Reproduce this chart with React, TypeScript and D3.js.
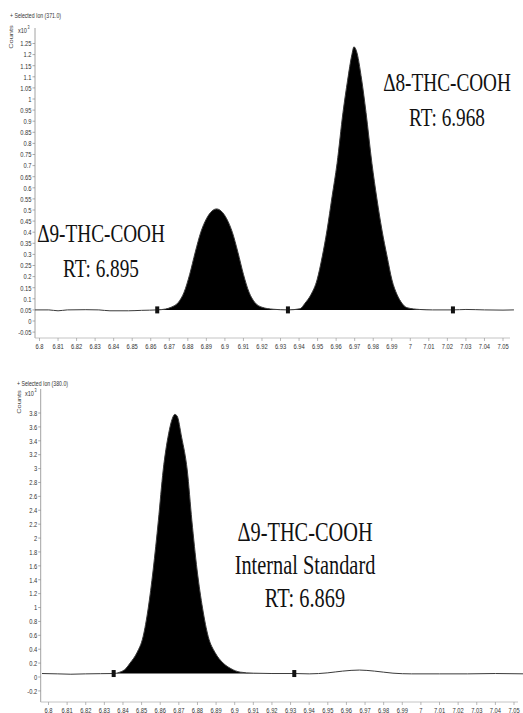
import React, { useEffect } from "react";
import * as d3 from "d3";

// ---------------- data ----------------
const topRT = [6.7976, 6.805, 6.81, 6.815, 6.825, 6.832, 6.838, 6.848, 6.855, 6.8635,
  6.868, 6.871, 6.875, 6.878, 6.881, 6.884, 6.887, 6.89, 6.893, 6.8955, 6.898, 6.901, 6.904,
  6.907, 6.91, 6.913, 6.916, 6.92, 6.926, 6.934,
  6.9405, 6.9432, 6.9465, 6.9497, 6.9525, 6.9551, 6.9578, 6.9605, 6.9637, 6.9662, 6.9685,
  6.9696, 6.9708, 6.9738, 6.9761, 6.9793, 6.982, 6.9847, 6.9875, 6.9901, 6.9928, 6.9955,
  6.9982, 7.005, 7.012, 7.023, 7.03, 7.04, 7.05, 7.0559];
const topCounts = [0.05, 0.05, 0.046, 0.05, 0.051, 0.05, 0.046, 0.046, 0.048, 0.05,
  0.054, 0.062, 0.085, 0.13, 0.21, 0.31, 0.4, 0.46, 0.495, 0.505, 0.495, 0.46, 0.4,
  0.31, 0.21, 0.13, 0.085, 0.062, 0.053, 0.05,
  0.055, 0.08, 0.12, 0.185, 0.29, 0.41, 0.56, 0.71, 0.94, 1.085, 1.2,
  1.235, 1.22, 1.085, 0.94, 0.71, 0.55, 0.41, 0.29, 0.185, 0.12, 0.08,
  0.06, 0.052, 0.05, 0.05, 0.052, 0.05, 0.049, 0.05];
const topMarkersRT = [6.8635, 6.934, 7.023];

const botRT = [6.7965, 6.805, 6.812, 6.82, 6.828, 6.835, 6.8384, 6.8415, 6.8438, 6.8475,
  6.8508, 6.8535, 6.8562, 6.859, 6.8616, 6.8645, 6.8665, 6.8678, 6.869, 6.8715, 6.8745,
  6.877, 6.8798, 6.8828, 6.8858, 6.8895, 6.8938, 6.898, 6.903, 6.91, 6.92, 6.932,
  6.94, 6.95, 6.958, 6.967, 6.975, 6.985, 6.995, 7.01, 7.025, 7.04, 7.057];
const botCounts = [0.05, 0.045, 0.04, 0.045, 0.048, 0.05, 0.07, 0.12, 0.2, 0.35,
  0.58, 0.98, 1.54, 2.25, 2.98, 3.5, 3.72, 3.78, 3.76, 3.45, 2.98,
  2.25, 1.54, 0.98, 0.58, 0.35, 0.2, 0.12, 0.07, 0.055, 0.05, 0.05,
  0.045, 0.06, 0.085, 0.1, 0.085, 0.055, 0.045, 0.045, 0.045, 0.05, 0.045];
const botMarkersRT = [6.835, 6.932];

const xTickLabels = ["6.8", "6.81", "6.82", "6.83", "6.84", "6.85", "6.86", "6.87", "6.88", "6.89",
  "6.9", "6.91", "6.92", "6.93", "6.94", "6.95", "6.96", "6.97", "6.98", "6.99",
  "7", "7.01", "7.02", "7.03", "7.04", "7.05"];
const topYTickLabels = ["1.25", "1.2", "1.15", "1.1", "1.05", "1", "0.95", "0.9", "0.85", "0.8",
  "0.75", "0.7", "0.65", "0.6", "0.55", "0.5", "0.45", "0.4", "0.35", "0.3", "0.25", "0.2",
  "0.15", "0.1", "0.05", "0", "-0.05"];
const botYTickLabels = ["3.8", "3.6", "3.4", "3.2", "3", "2.8", "2.6", "2.4", "2.2", "2", "1.8",
  "1.6", "1.4", "1.2", "1", "0.8", "0.6", "0.4", "0.2", "0", "-0.2"];

const topHeader = "+ Selected Ion (371.0)";
const botHeader = "+ Selected Ion (380.0)";
const yAxisTitle = "Counts";
const topAnnotations = [["Δ9-THC-COOH", "RT: 6.895"], ["Δ8-THC-COOH", "RT: 6.968"]];
const botAnnotations = [["Δ9-THC-COOH", "Internal Standard", "RT: 6.869"]];

// ---------------- layout ----------------
const W = 523;
const H = 713;
const SQ = 0.74; // horizontal squeeze of the original figure's text

type PanelCfg = {
  rt: number[]; counts: number[]; markers: number[]; yLabels: string[];
  xRange: [number, number]; yDomain: [number, number]; yRange: [number, number];
  axisX: number; axisTop: number; axisBottom: number; axisRight: number;
  header: string; headerX: number; headerY: number;
  countsX: number; countsY: number; x10X: number; x10Y: number;
  annotations: string[][]; annPos: { x: number; y: number }[]; lineGap: number; annSize: number;
};

const panels: PanelCfg[] = [
  {
    rt: topRT, counts: topCounts, markers: topMarkersRT, yLabels: topYTickLabels,
    xRange: [39.5, 503], yDomain: [0, 1.25], yRange: [321, 43.5],
    axisX: 35, axisTop: 28, axisBottom: 338, axisRight: 510,
    header: topHeader, headerX: 10, headerY: 17.5,
    countsX: 12.5, countsY: 37, x10X: 18, x10Y: 33,
    annotations: topAnnotations,
    annPos: [{ x: 101, y: 242 }, { x: 447, y: 91 }], lineGap: 35, annSize: 26,
  },
  {
    rt: botRT, counts: botCounts, markers: botMarkersRT, yLabels: botYTickLabels,
    xRange: [48.5, 514], yDomain: [0, 3.8], yRange: [677, 413],
    axisX: 40.7, axisTop: 389, axisBottom: 702, axisRight: 518,
    header: botHeader, headerX: 17, headerY: 385.5,
    countsX: 21, countsY: 402, x10X: 25, x10Y: 396,
    annotations: botAnnotations,
    annPos: [{ x: 305, y: 541 }], lineGap: 33, annSize: 27.5,
  },
];

function SText(props: { x: number; y: number; size: number; anchor?: string; fill?: string; family?: string; children: React.ReactNode }) {
  const { x, y, size, anchor = "start", fill = "#333", family = "'Liberation Sans', Arial, sans-serif", children } = props;
  return (
    <text transform={`translate(${x},${y}) scale(${SQ},1)`} fontSize={size} textAnchor={anchor as any}
      fill={fill} fontFamily={family}>{children}</text>
  );
}

function Panel({ p }: { p: PanelCfg }) {
  const x = d3.scaleLinear().domain([6.8, 7.05]).range(p.xRange);
  const y = d3.scaleLinear().domain(p.yDomain).range(p.yRange);
  const pts = p.rt.map((r, i) => ({ r, c: p.counts[i] }));
  const line = d3.line<{ r: number; c: number }>().x(d => x(d.r)).y(d => y(d.c)).curve(d3.curveMonotoneX);

  const segs = [];
  for (let i = 0; i < p.markers.length - 1; i++) {
    const m0 = p.markers[i], m1 = p.markers[i + 1];
    const seg = pts.filter(d => d.r >= m0 - 1e-9 && d.r <= m1 + 1e-9);
    const b0 = seg[0].c, b1 = seg[seg.length - 1].c;
    const area = d3.area<{ r: number; c: number }>()
      .x(d => x(d.r))
      .y0(d => y(b0 + (b1 - b0) * (d.r - m0) / (m1 - m0)))
      .y1(d => y(d.c))
      .curve(d3.curveMonotoneX);
    segs.push(<path key={i} d={area(seg) || ""} fill="#000" />);
  }

  const axisColor = "#8a8a8a";
  return (
    <g>
      {/* header & axis title */}
      <SText x={p.headerX} y={p.headerY} size={7}>{p.header}</SText>
      <text transform={`translate(${p.countsX},${p.countsY}) rotate(-90) scale(1,${SQ})`} fontSize={7.5}
        textAnchor="middle" fill="#444" fontFamily="'Liberation Sans', Arial, sans-serif">{yAxisTitle}</text>
      <SText x={p.x10X} y={p.x10Y} size={7.5}>x10</SText>
      <SText x={p.x10X + 9.5} y={p.x10Y - 4.5} size={5}>3</SText>

      {/* axes */}
      <line x1={p.axisX} x2={p.axisX} y1={p.axisTop} y2={p.axisBottom} stroke={axisColor} strokeWidth={0.8} />
      <line x1={p.axisX} x2={p.axisRight} y1={p.axisBottom} y2={p.axisBottom} stroke="#b5b5b5" strokeWidth={0.8} />
      {p.yLabels.map(l => {
        const v = parseFloat(l);
        return (
          <g key={l}>
            <line x1={p.axisX - 2.5} x2={p.axisX} y1={y(v)} y2={y(v)} stroke={axisColor} strokeWidth={0.7} />
            <SText x={p.axisX - 3.5} y={y(v) + 2.8} size={7.8} anchor="end">{l}</SText>
          </g>
        );
      })}
      {xTickLabels.map(l => {
        const v = parseFloat(l);
        return (
          <g key={l}>
            <line x1={x(v)} x2={x(v)} y1={p.axisBottom} y2={p.axisBottom + 3} stroke="#999" strokeWidth={0.7} />
            <SText x={x(v)} y={p.axisBottom + 10.5} size={7.8} anchor="middle">{l}</SText>
          </g>
        );
      })}

      {/* filled peaks and trace */}
      {segs}
      <path d={line(pts) || ""} fill="none" stroke="#3a3a3a" strokeWidth={1} />
      {p.markers.map(m => {
        const idx = p.rt.indexOf(m);
        const c = p.counts[idx];
        return <rect key={m} x={x(m) - 2} y={y(c) - 3.5} width={4} height={7} fill="#111" />;
      })}

      {/* annotations */}
      {p.annotations.map((lines, k) => (
        <g key={k}>
          {lines.map((t, j) => (
            <SText key={j} x={p.annPos[k].x} y={p.annPos[k].y + j * p.lineGap} size={p.annSize} anchor="middle"
              fill="#111" family="'Liberation Serif', 'Times New Roman', serif">{t}</SText>
          ))}
        </g>
      ))}
    </g>
  );
}

export default function App() {
  useEffect(() => {
    document.body.style.margin = "0";
    document.body.style.overflow = "hidden";
  }, []);
  return (
    <svg width={W} height={H} viewBox={`0 0 ${W} ${H}`} style={{ display: "block", background: "#fff" }}>
      <rect width={W} height={H} fill="#fff" />
      {panels.map((p, i) => <Panel key={i} p={p} />)}
    </svg>
  );
}
